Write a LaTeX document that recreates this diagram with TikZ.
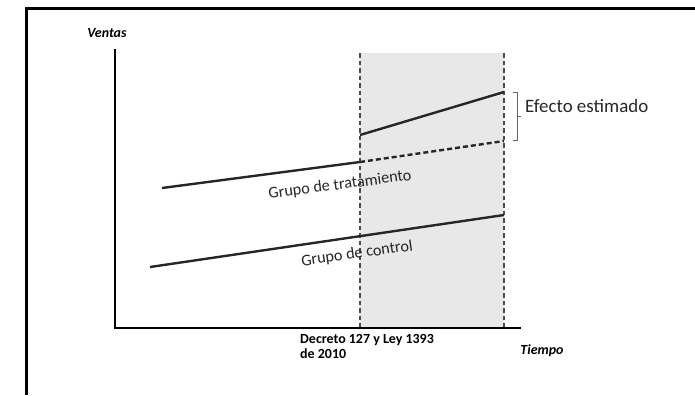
\documentclass[tikz,border=0pt]{standalone}
\usepackage{fontspec}
\setmainfont{Carlito}

\begin{document}
\begin{tikzpicture}[x=1bp, y=-1bp,
  axis/.style={line width=2.4bp, black},
  trend/.style={line width=2.4bp, black!85},
  cut/.style={line width=1.8bp, black!70, dash pattern=on 4.5bp off 3bp},
  grp/.style={font=\fontsize{16.3}{19}\selectfont, text=black!85, inner sep=0pt},
  axlbl/.style={font=\fontsize{14}{15}\selectfont\bfseries\itshape, inner sep=0pt}]
\newcommand{\Xcut}{360}; % policy date
\newcommand{\Xend}{504}; % end of period
\newcommand{\Ytop}{53}; % top of shaded period
\newcommand{\Ybase}{328}; % time axis

\useasboundingbox (0,0) rectangle (695,395);

% frame
\draw[line width=3bp] (26,395) -- (26,8) -- (695,8);

% shaded period after the decree
\fill[black!9] (\Xcut,\Ytop) rectangle (\Xend,\Ybase);

\coordinate (O)  at (115,\Ybase);
\coordinate (YY) at (115,49);
\coordinate (XX) at (521,\Ybase);

% treatment group
\coordinate (tA) at (162,188);
\coordinate (tB) at (\Xcut,162);
\coordinate (tC) at (\Xend,141);
\coordinate (pA) at (\Xcut,135);
\coordinate (pB) at (\Xend,92);
% control group
\coordinate (cA) at (150,267);
\coordinate (cB) at (\Xend,215);

\draw[cut] (\Xcut,\Ytop) -- (\Xcut,\Ybase);
\draw[cut] (\Xend,\Ytop) -- (\Xend,\Ybase);

% axes
\draw[axis] (YY) -- (O) -- (XX);

\draw[trend] (tA) -- (tB);
\draw[trend, dash pattern=on 5bp off 3bp] (tB) -- (tC);
\draw[trend] (pA) -- (pB);
\draw[trend] (cA) -- (cB);

% bracket
\coordinate (bT) at (513,92);
\coordinate (bB) at (513,140);
\coordinate (bM) at (517,116);
\draw[black!60, line width=1bp] (bT) -- ++(4,0) |- (bB);
\draw[black!60, line width=1bp] (bM) -- ++(4,0);

\node[grp, font=\fontsize{19}{22}\selectfont, anchor=west] (efecto) at (525,106) {Efecto estimado};
\node[grp, rotate=7.5] (tratam) at (340,185) {Grupo de tratamiento};
\node[grp, rotate=8] (control) at (357,254) {Grupo de control};

\node[axlbl] (ventas) at (107,33) {Ventas};
\node[axlbl] (tiempo) at (542,351) {Tiempo};
\node[anchor=north west, align=left, inner sep=0pt,
  font=\fontsize{14}{15}\selectfont\bfseries] (decreto) at (300,334) {Decreto 127 y Ley 1393\\de 2010};
\end{tikzpicture}
\end{document}
